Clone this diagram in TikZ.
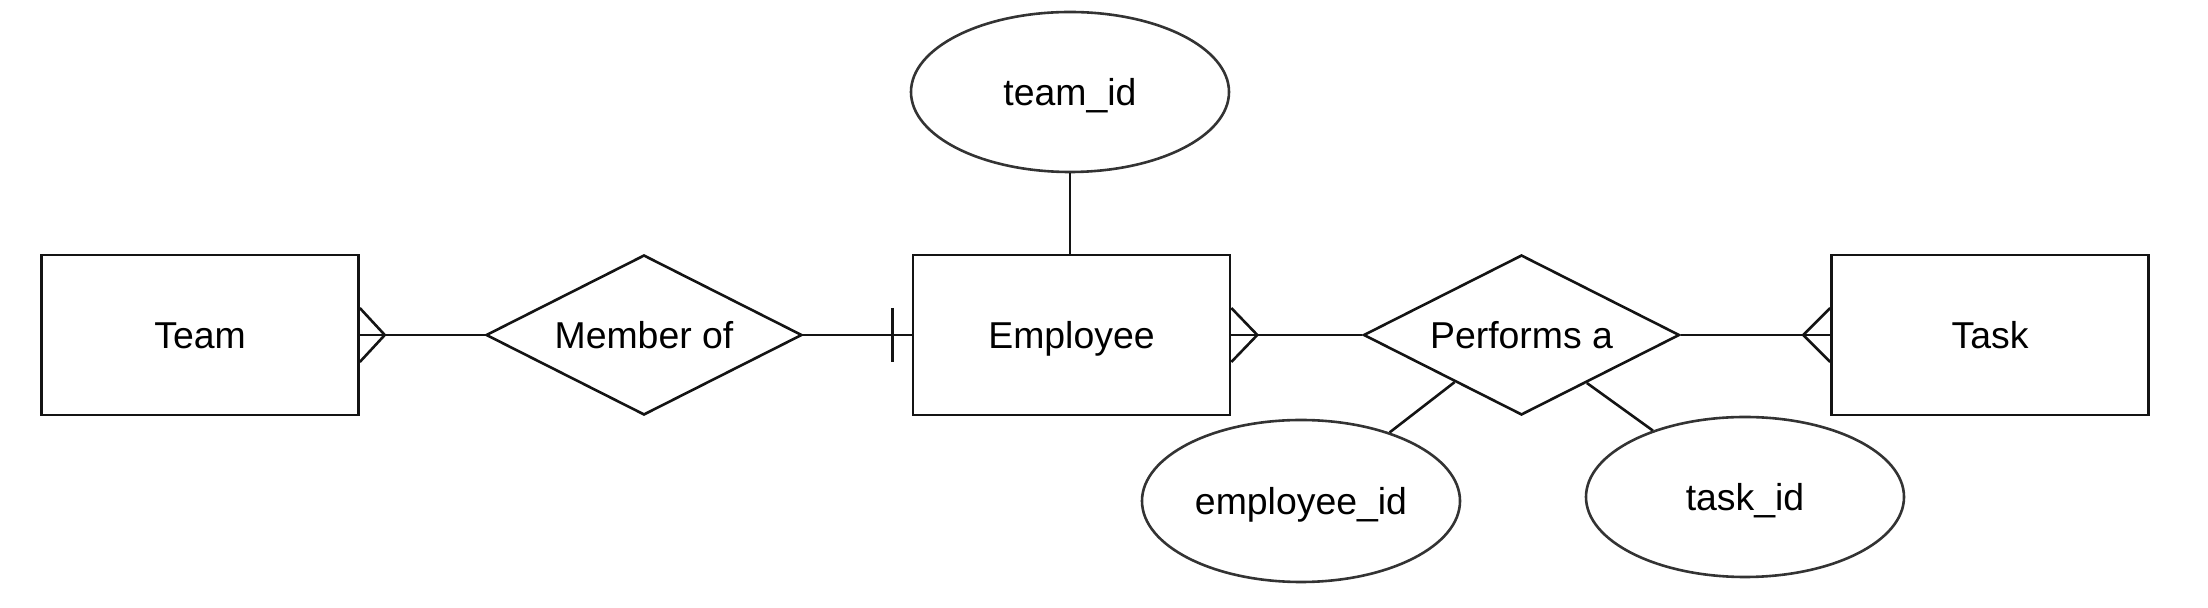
\documentclass[tikz,border=0pt]{standalone}
\usepackage{fontspec}
\setmainfont{Liberation Sans}
\usetikzlibrary{shapes.geometric,calc}
\definecolor{ink}{HTML}{141414}
\definecolor{ellink}{HTML}{333333}
\tikzset{
  lbl/.style={font=\fontsize{18.7}{22}\selectfont, text height=13.4pt, text depth=0pt, inner sep=0pt},
  entity/.style={lbl, draw=ink, line width=1.3pt, rectangle, minimum width=158.5pt, minimum height=80pt},
  relation/.style={lbl, draw=ink, line width=1.3pt, diamond, aspect=2, minimum width=158pt, minimum height=80pt},
  attrib/.style={lbl, draw=ellink, line width=1.3pt, ellipse, minimum width=159pt, minimum height=80pt},
  link/.style={draw=ink, line width=1.3pt},
}
\begin{document}
\begin{tikzpicture}[x=0.5pt, y=-0.5pt]
\useasboundingbox (0,0) rectangle (2208,608);
\node[entity] (team) at (200,335) {Team};
\node[relation] (member) at (644,335) {Member of};
\node[entity] (employee) at (1071.5,335) {Employee};
\node[attrib] (teamid) at (1070,92) {team\_id};
\node[relation] (performs) at (1521.5,335) {Performs a};
\node[entity] (task) at (1990,335) {Task};
\node[attrib, minimum height=81pt] (empid) at (1301,501) {employee\_id};
\node[attrib] (taskid) at (1745,497) {task\_id};

% team -- member (many at team)
\draw[link] (team.east) -- (member.west);
\draw[link] ($(team.east)+(0,-27)$) -- ($(team.east)+(25,0)$) -- ($(team.east)+(0,27)$);
% member -- employee (one at employee)
\draw[link] (member.east) -- (employee.west);
\draw[link] ($(employee.west)+(-19,-27)$) -- ($(employee.west)+(-19,27)$);
% employee -- performs (many at employee)
\draw[link] (employee.east) -- (performs.west);
\draw[link] ($(employee.east)+(0,-27)$) -- ($(employee.east)+(26,0)$) -- ($(employee.east)+(0,27)$);
% performs -- task (many at task)
\draw[link] (performs.east) -- (task.west);
\draw[link] ($(task.west)+(0,-27)$) -- ($(task.west)+(-27,0)$) -- ($(task.west)+(0,27)$);
% attributes
\draw[link] (teamid) -- (teamid |- employee.north);
\draw[link] ($(performs.west)!0.58!(performs.south)$) -- (empid);
\draw[link] ($(performs.east)!0.59!(performs.south)$) -- (taskid);
\end{tikzpicture}
\end{document}
